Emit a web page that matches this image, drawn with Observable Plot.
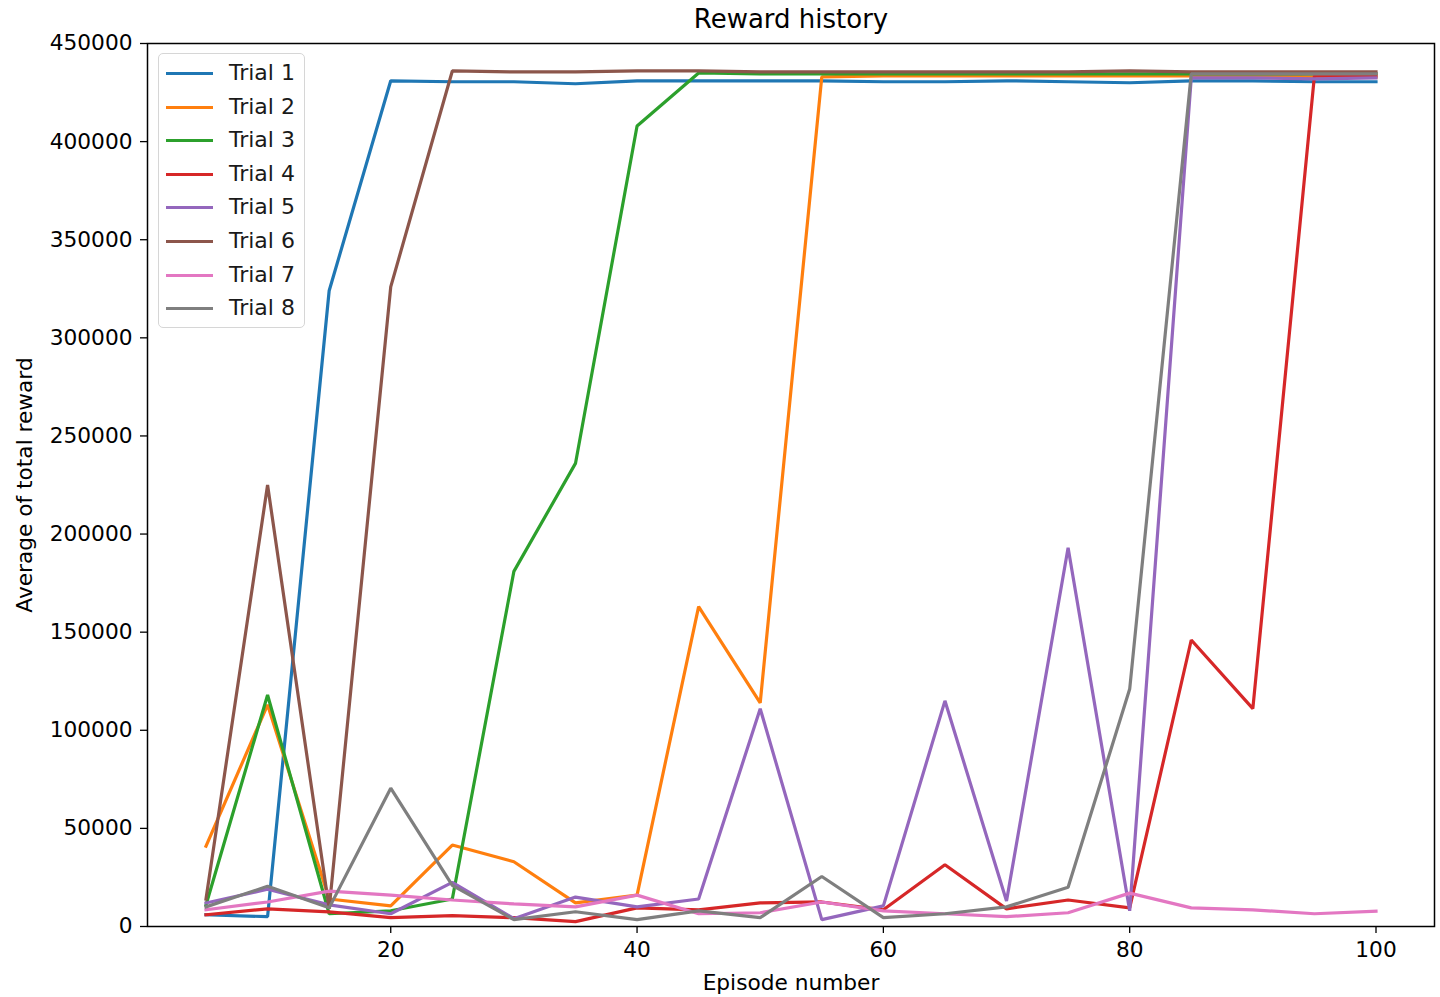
<!DOCTYPE html>
<html>
<head>
<meta charset="utf-8">
<script src="https://cdn.jsdelivr.net/npm/d3@7"></script>
<script src="https://cdn.jsdelivr.net/npm/@observablehq/plot@0.6"></script>
<style>
  html, body { margin: 0; padding: 0; background: #fff; }
  #wrap { position: relative; width: 1440px; height: 997px; font-family: "DejaVu Sans", sans-serif; }
  #legend { position: absolute; left: 158px; top: 53px; width: 147px; height: 275px; border: 1px solid #d6d6d6; border-radius: 5px; background: rgba(255,255,255,0.8); box-sizing: border-box; }
  .item { position: absolute; left: 0; height: 30px; width: 146px; }
  .item .sw { position: absolute; left: 7px; width: 47px; height: 3px; top: 13px; }
  .item .lb { position: absolute; left: 70px; top: 0; font-size: 22px; line-height: 28px; color: #1a1a1a; white-space: nowrap; }
</style>
</head>
<body>
<div id="wrap"></div>
<script>
const episodes = [5,10,15,20,25,30,35,40,45,50,55,60,65,70,75,80,85,90,95,100];
const trialNames = ["Trial 1","Trial 2","Trial 3","Trial 4","Trial 5","Trial 6","Trial 7","Trial 8"];
const colors = ["#1f77b4","#ff7f0e","#2ca02c","#d62728","#9467bd","#8c564b","#e377c2","#7f7f7f"];
const trial1 = [6000,5000,324000,431000,430500,430500,429500,431000,431000,431000,431000,430500,430500,431000,430500,430000,431000,431000,430500,430500];
const trial2 = [41000,113000,14000,10500,41500,33000,12000,16000,163000,114000,433000,433500,433500,433500,433500,433500,433500,433500,433000,432800];
const trial3 = [11000,118000,6500,8000,14000,181000,236000,408000,435000,434500,434500,434500,434500,434500,434500,434500,434500,434500,434500,434500];
const trial4 = [6000,9000,7500,4500,5500,4500,2500,9500,8500,12000,12500,8500,31500,9000,13500,9500,146000,111000,433500,433500];
const trial5 = [12000,19000,11000,6500,22500,4000,15000,10000,14000,111000,3500,10500,115000,13000,193000,8000,432500,432500,432000,432500];
const trial6 = [14000,225000,9000,326000,436000,435500,435500,436000,436000,435500,435500,435500,435500,435500,435500,436000,435500,435500,435500,435500];
const trial7 = [8500,12500,18000,16000,13500,11500,10000,16000,6500,7000,12500,8000,6500,5000,7000,17000,9500,8500,6500,7800];
const trial8 = [10000,20500,9500,70500,21000,3500,7500,3500,8000,4500,25500,4500,6500,10000,20000,121000,434500,434500,434500,434500];
const yTicks = [0,50000,100000,150000,200000,250000,300000,350000,400000,450000];
const xTicks = [20,40,60,80,100];

const series = [trial1,trial2,trial3,trial4,trial5,trial6,trial7,trial8];
const rows = [];
series.forEach((vals, i) => vals.forEach((v, j) => rows.push({trial: trialNames[i], episode: episodes[j], reward: v})));

const fs = 21.7;
const chart = Plot.plot({
  width: 1440,
  height: 997,
  marginLeft: 147,
  marginRight: 6,
  marginTop: 43,
  marginBottom: 71,
  style: {fontFamily: "DejaVu Sans, sans-serif", fontSize: fs + "px", background: "#fff", color: "#000"},
  x: {domain: [0.25, 104.75]},
  y: {domain: [0, 450000]},
  color: {domain: trialNames, range: colors},
  marks: [
    Plot.line(rows, {x: "episode", y: "reward", z: "trial", stroke: "trial", strokeWidth: 3.2, strokeLinejoin: "miter", strokeLinecap: "square"}),
    Plot.frame({stroke: "#000", strokeWidth: 1.5}),
    Plot.axisX({ticks: xTicks, tickSize: 7, tickPadding: 8, tickFormat: d => String(d), label: null, fontSize: fs, strokeWidth: 1.3}),
    Plot.axisY({ticks: yTicks, tickSize: 7, tickPadding: 8, tickFormat: d => String(d), label: null, fontSize: fs, strokeWidth: 1.3}),
    Plot.text(["Reward history"], {frameAnchor: "top", lineAnchor: "middle", dy: -24, fontSize: 26, fill: "#000"}),
    Plot.text(["Episode number"], {frameAnchor: "bottom", lineAnchor: "middle", dy: 57, fontSize: fs, fill: "#000"}),
    Plot.text(["Average of total reward"], {frameAnchor: "left", textAnchor: "middle", lineAnchor: "middle", dx: -122, rotate: -90, fontSize: fs, fill: "#000"})
  ]
});
const wrap = document.getElementById("wrap");
wrap.appendChild(chart);

const legend = document.createElement("div");
legend.id = "legend";
trialNames.forEach((name, i) => {
  const it = document.createElement("div");
  it.className = "item";
  it.style.top = (5 + i * 33.6) + "px";
  const sw = document.createElement("div");
  sw.className = "sw";
  sw.style.background = colors[i];
  const lb = document.createElement("div");
  lb.className = "lb";
  lb.textContent = name;
  it.appendChild(sw); it.appendChild(lb);
  legend.appendChild(it);
});
wrap.appendChild(legend);
</script>
</body>
</html>
